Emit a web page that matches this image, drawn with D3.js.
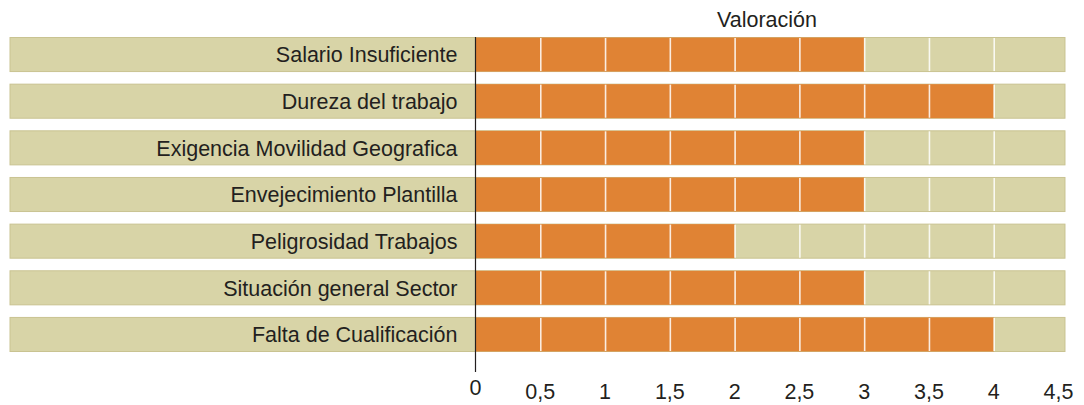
<!DOCTYPE html>
<html>
<head>
<meta charset="utf-8">
<script src="https://cdn.jsdelivr.net/npm/d3@7"></script>
<style>
  body { margin: 0; background: #fff; }
  svg text { font-family: "Liberation Sans", Arial, sans-serif; fill: #231f20; }
</style>
</head>
<body>
<svg id="chart" width="1084" height="405"></svg>
<script>
// Data
const categories = [
  'Salario Insuficiente',
  'Dureza del trabajo',
  'Exigencia Movilidad Geografica',
  'Envejecimiento Plantilla',
  'Peligrosidad Trabajos',
  'Situación general Sector',
  'Falta de Cualificación'
];
const values = [3, 4, 3, 3, 2, 3, 4];
const tickValues = [0, 0.5, 1, 1.5, 2, 2.5, 3, 3.5, 4, 4.5];
const tickLabels = ['0', '0,5', '1', '1,5', '2', '2,5', '3', '3,5', '4', '4,5'];
const axisTitle = 'Valoración';

const svg = d3.select('svg#chart');
const bandLeft = 10;
const bandMax = 4.55;   // background bands run a bit past the last tick
const fontSize = '21.5px';

const x = d3.scaleLinear().domain([0, 4.5]).range([475.5, 1058.5]);
const y = d3.scaleBand().domain(categories).range([37.5, 351.5]).paddingInner(0.27).paddingOuter(0);

const beige = '#d8d4a7';
const orange = '#e08334';

const rows = svg.append('g').selectAll('g')
  .data(categories.map((c, i) => ({name: c, value: values[i]})))
  .join('g');

// background bands
rows.append('rect')
  .attr('x', bandLeft)
  .attr('y', d => y(d.name))
  .attr('width', x(bandMax) - bandLeft)
  .attr('height', y.bandwidth())
  .attr('fill', beige)
  .attr('stroke', '#c9c391')
  .attr('stroke-width', 1);

// value bars
rows.append('rect')
  .attr('x', x(0))
  .attr('y', d => y(d.name))
  .attr('width', d => x(d.value) - x(0))
  .attr('height', y.bandwidth())
  .attr('fill', orange);

// white grid lines inside each band
rows.selectAll('line.grid')
  .data(d => tickValues.slice(1, -1).map(t => ({t, name: d.name})))
  .join('line')
  .attr('class', 'grid')
  .attr('x1', d => x(d.t) + 0.5)
  .attr('x2', d => x(d.t) + 0.5)
  .attr('y1', d => y(d.name) + 0.5)
  .attr('y2', d => y(d.name) + y.bandwidth() - 0.5)
  .attr('stroke', '#fff')
  .attr('stroke-width', 1.6)
  .attr('stroke-opacity', 0.85);

// category labels
rows.append('text')
  .attr('x', x(0) - 18)
  .attr('y', d => y(d.name) + y.bandwidth() / 2)
  .attr('dy', '0.36em')
  .attr('text-anchor', 'end')
  .style('font-size', fontSize)
  .text(d => d.name);

// vertical axis line
svg.append('line')
  .attr('x1', x(0)).attr('x2', x(0))
  .attr('y1', 37).attr('y2', 372)
  .attr('stroke', '#231f20')
  .attr('stroke-width', 1.2);

// x tick labels
svg.append('g').selectAll('text')
  .data(tickValues)
  .join('text')
  .attr('x', d => x(d))
  .attr('y', (d, i) => i === 0 ? 395 : 399)
  .attr('text-anchor', 'middle')
  .style('font-size', fontSize)
  .text((d, i) => tickLabels[i]);

// title
svg.append('text')
  .attr('x', (x(0) + x(4.5)) / 2)
  .attr('y', 27)
  .attr('text-anchor', 'middle')
  .style('font-size', fontSize)
  .text(axisTitle);
</script>
</body>
</html>
